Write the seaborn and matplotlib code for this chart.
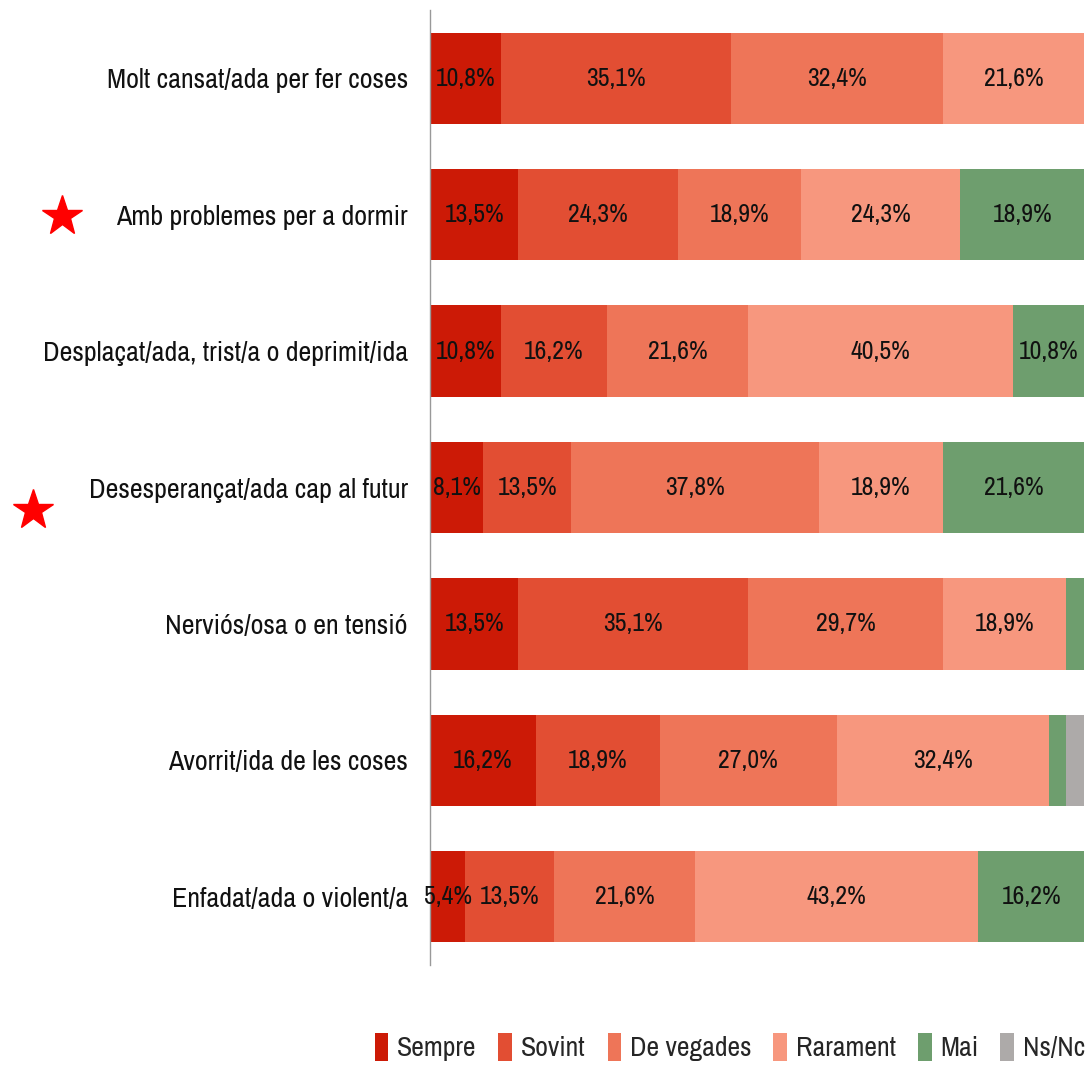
import matplotlib
matplotlib.use("Agg")
import matplotlib.pyplot as plt
from matplotlib.patches import Patch
import seaborn as sns
import numpy as np
import pandas as pd

categories = [
    "Molt cansat/ada per fer coses",
    "Amb problemes per a dormir",
    "Desplaçat/ada, trist/a o deprimit/ida",
    "Desesperançat/ada cap al futur",
    "Nerviós/osa o en tensió",
    "Avorrit/ida de les coses",
    "Enfadat/ada o violent/a",
]
series = ["Sempre", "Sovint", "De vegades", "Rarament", "Mai", "Ns/Nc"]
sempre = [10.8, 13.5, 10.8, 8.1, 13.5, 16.2, 5.4]
sovint = [35.1, 24.3, 16.2, 13.5, 35.1, 18.9, 13.5]
de_vegades = [32.4, 18.9, 21.6, 37.8, 29.7, 27.0, 21.6]
rarament = [21.6, 24.3, 40.5, 18.9, 18.9, 32.4, 43.2]
mai = [0.0, 18.9, 10.8, 21.6, 2.7, 2.7, 16.2]
nsnc = [0.0, 0.0, 0.0, 0.0, 0.0, 2.7, 0.0]
starred = ["Amb problemes per a dormir", "Desesperançat/ada cap al futur"]

colors = ["#cc1a06", "#e24e33", "#ee7558", "#f7977e", "#6e9e6e", "#adaaa9"]

df = pd.DataFrame({"cat": categories, "Sempre": sempre, "Sovint": sovint,
                   "De vegades": de_vegades, "Rarament": rarament,
                   "Mai": mai, "Ns/Nc": nsnc})

sns.set_style("white")
plt.rcParams["font.family"] = ["Archivo Narrow", "DejaVu Sans"]

fig = plt.figure(figsize=(10.87, 10.65), dpi=100)
ax = fig.add_axes([0.3956, 0.0939, 0.6024, 0.8967])

# stacked bars: each series starts where the previous one ended
left = np.zeros(len(categories))
for name, col in zip(series, colors):
    vals = df[name].values
    sns.barplot(data=df, x=name, y="cat", color=col, orient="h",
                errorbar=None, width=0.67, left=left, ax=ax,
                saturation=1, linewidth=0)
    cont = ax.containers[-1]
    labs = [f"{v:.1f}%".replace(".", ",") if v > 4 else "" for v in vals]
    ax.bar_label(cont, labels=labs, label_type="center", fontsize=18.5,
                 color="#111111")
    left = left + vals

ax.set_xlim(0, 100)
ax.set_ylim(6.5, -0.5)
ax.set_xlabel("")
ax.set_ylabel("")
ax.set_xticks([])
ax.tick_params(axis="y", length=0, pad=16, labelsize=20.2, labelcolor="#111111")
for s in ["top", "right", "bottom"]:
    ax.spines[s].set_visible(False)
ax.spines["left"].set_color("#999999")
ax.spines["left"].set_linewidth(1)

# stars next to two labels
star_pos = {"Amb problemes per a dormir": (0.057, 0.797),
            "Desesperançat/ada cap al futur": (0.030, 0.521)}
for c in starred:
    x, y = star_pos[c]
    fig.lines.append(plt.Line2D([x], [y], marker="*", markersize=30,
                                color="#ff0000", linestyle="none",
                                transform=fig.transFigure))

handles = [Patch(facecolor=c, edgecolor="none") for c in colors]
fig.legend(handles, series, loc="lower right", bbox_to_anchor=(1.021, -0.02),
           ncol=6, frameon=False, fontsize=20, handlelength=0.5,
           handleheight=1.2, handletextpad=0.3, columnspacing=0.8)

fig.savefig("out.png", dpi=100)
